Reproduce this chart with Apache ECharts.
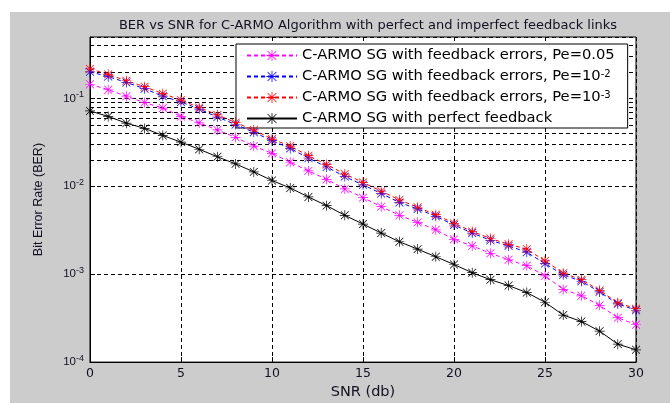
<!DOCTYPE html>
<html>
<head>
<meta charset="utf-8">
<script src="https://cdn.jsdelivr.net/npm/echarts@6/dist/echarts.min.js"></script>
<style>html,body{margin:0;padding:0;background:#fff}#c{width:670px;height:405px}</style>
</head>
<body>
<div id="c"></div>
<script>
var snr = [0,1,2,3,4,5,6,7,8,9,10,11,12,13,14,15,16,17,18,19,20,21,22,23,24,25,26,27,28,29,30];
var berPe005 = [0.145,0.1256,0.106,0.0897,0.0777,0.0624,0.0527,0.0438,0.0361,0.0287,0.0237,0.0188,0.015,0.012,0.00934,0.00743,0.00587,0.00468,0.00389,0.0032,0.00249,0.0021,0.00173,0.00146,0.00125,0.000958,0.000672,0.000568,0.000442,0.00032,0.000266];
var berPe1e2 = [0.201,0.177,0.152,0.129,0.106,0.0911,0.0757,0.0614,0.0505,0.0412,0.0331,0.027,0.021,0.0166,0.0129,0.0104,0.0083,0.00655,0.00553,0.00456,0.00363,0.00294,0.00243,0.0021,0.00178,0.00132,0.000984,0.000832,0.000629,0.00046,0.000389];
var berPe1e3 = [0.217,0.188,0.159,0.136,0.1135,0.0958,0.0789,0.065,0.0531,0.0438,0.0345,0.0287,0.0223,0.0177,0.0138,0.0111,0.00881,0.00702,0.00578,0.00476,0.00379,0.00307,0.00255,0.00219,0.00193,0.00142,0.00103,0.000866,0.000655,0.000472,0.000406];
var berPerfect = [0.072,0.0624,0.0523,0.0456,0.0379,0.0318,0.0264,0.0217,0.018,0.0146,0.01165,0.00957,0.00757,0.00603,0.00468,0.00372,0.00294,0.00234,0.00193,0.00158,0.00129,0.00104,0.000866,0.000743,0.000618,0.00048,0.000343,0.00029,0.000225,0.00016,0.000138];
var seriesNames = ['C-ARMO SG with feedback errors, Pe=0.05','C-ARMO SG with feedback errors, Pe=10{sup|-2}','C-ARMO SG with feedback errors, Pe=10{sup|-3}','C-ARMO SG with perfect feedback'];
var xTicks = [0,5,10,15,20,25,30];
var yTickLabels = {'0.0001':'-4','0.001':'-3','0.01':'-2','0.1':'-1'};

var minorGrid = [];
[1e-4,1e-3,1e-2,1e-1].forEach(function(d){
  for (var k=2;k<=9;k++){ var v=+(k*d).toPrecision(3); if (v<0.5) minorGrid.push({yAxis:v}); }
});

var star = 'path://M0,9.3H20V10.7H0Z M9.3,0H10.7V20H9.3Z M2.6,1.6L18.4,17.4L17.4,18.4L1.6,2.6Z M17.4,1.6L18.4,2.6L2.6,18.4L1.6,17.4Z';
var font = 'Liberation Sans, Arial, sans-serif';
var wide = 'DejaVu Sans, sans-serif';
var txt = '#111122';

function mk(name, data, color, dashed, extra){
  var s = {
    name: name, type: 'line', data: snr.map(function(x,i){return [x,data[i]];}),
    symbol: star, symbolSize: 10, showAllSymbol: true,
    itemStyle: {color: color},
    lineStyle: {color: color, width: 1, type: dashed ? [4,3] : 'solid'},
    animation: false, z: 5
  };
  if (extra) for (var k in extra) s[k]=extra[k];
  return s;
}

var chart = echarts.init(document.getElementById('c'));
chart.setOption({
  animation: false,
  backgroundColor: '#ffffff',
  graphic: [{type:'rect', z:-100, silent:true, shape:{x:10,y:12,width:660,height:391}, style:{fill:'#cccccc'}}],
  title: {text: 'BER vs SNR for C-ARMO Algorithm with perfect and imperfect feedback links', left: 363, textAlign: 'center', top: 14,
    textStyle: {fontFamily: wide, fontSize: 13, fontWeight: 'normal', color: txt}},
  grid: {left: 90, top: 37, right: 34, bottom: 33, show: true, backgroundColor: '#ffffff', borderColor: '#000', borderWidth: 1},
  legend: {
    orient: 'vertical', left: 236, top: 44,
    backgroundColor: '#ffffff', borderColor: '#000', borderWidth: 1, padding: [4, 13, 2, 10],
    itemWidth: 50, itemHeight: 14, itemGap: 6,
    textStyle: {fontFamily: wide, fontSize: 14.7, color: '#000', lineHeight: 15,
      rich: {sup: {fontFamily: wide, fontSize: 10, verticalAlign: 'top', lineHeight: 10, padding: [0,0,5,0]}}},
    data: seriesNames
  },
  xAxis: {
    type: 'value', min: 0, max: 30, interval: 5,
    name: 'SNR (db)', nameLocation: 'middle', nameGap: 20,
    nameTextStyle: {fontFamily: wide, fontSize: 14.5, color: txt},
    axisLine: {lineStyle: {color: '#000'}},
    axisTick: {inside: true, length: 5, lineStyle: {color: '#000'}},
    axisLabel: {fontFamily: wide, fontSize: 12.5, color: txt, margin: 5},
    splitLine: {show: true, lineStyle: {color: '#000', type: [4,3], width: 1}}
  },
  yAxis: {
    type: 'log', logBase: 10, min: 1e-4, max: 0.5,
    name: 'Bit Error Rate (BER)', nameLocation: 'middle', nameGap: 45, nameRotate: 90,
    nameTextStyle: {fontFamily: font, fontSize: 12.5, color: txt},
    axisLine: {lineStyle: {color: '#000'}},
    axisTick: {inside: true, length: 5, lineStyle: {color: '#000'}},
    axisLabel: {fontFamily: font, fontSize: 11.5, color: txt, margin: 6, showMaxLabel: false,
      formatter: function(v){
        var key = String(+v.toPrecision(3));
        return yTickLabels[key] ? '10{sup|' + yTickLabels[key] + '}' : '';
      },
      rich: {sup: {fontFamily: font, fontSize: 9, verticalAlign: 'top', padding: [0,0,7,0]}}
    },
    splitLine: {show: true, lineStyle: {color: '#000', type: [4,3], width: 1}}
  },
  series: [
    mk(seriesNames[0], berPe005, '#ff00ff', true),
    mk(seriesNames[1], berPe1e2, '#0000ff', true),
    mk(seriesNames[2], berPe1e3, '#ff0000', true),
    mk(seriesNames[3], berPerfect, '#000000', false, {
      markLine: {silent: true, symbol: 'none', label: {show: false}, animation: false,
        lineStyle: {color: '#000', type: [4,3], width: 1}, data: minorGrid, z: 1}
    })
  ]
});
</script>
</body>
</html>
